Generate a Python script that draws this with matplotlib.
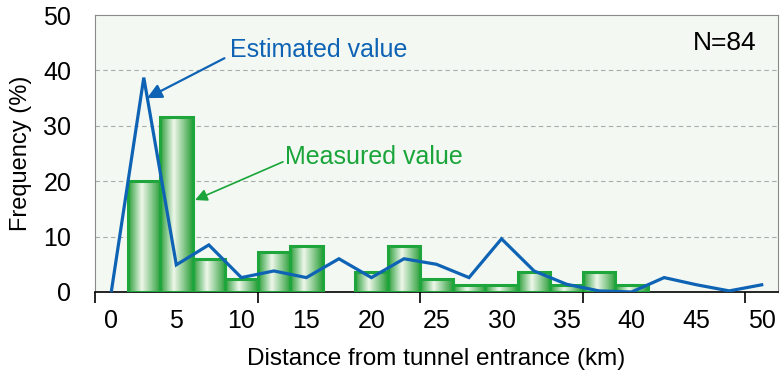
"""Frequency of distance from tunnel entrance: measured vs estimated."""

import matplotlib

matplotlib.use("Agg")
import matplotlib.pyplot as plt
import numpy as np
from matplotlib.colors import LinearSegmentedColormap
from matplotlib.patches import Rectangle

# measured histogram (bins 2.5 km wide, centred on multiples of 2.5)
bar_centers = [2.5, 5, 7.5, 10, 12.5, 15, 17.5, 20, 22.5, 25, 27.5, 30, 32.5, 35, 37.5, 40]
measured = [20.0, 31.5, 6.0, 2.4, 7.2, 8.3, 0.0, 3.6, 8.3, 2.4, 1.2, 1.2, 3.6, 1.2, 3.6, 1.2]

# estimated curve
est_x = [0, 2.5, 5, 7.5, 10, 12.5, 15, 17.5, 20, 22.5, 25, 27.5, 30, 32.5, 35, 37.5, 40,
         42.5, 45, 47.5, 50]
estimated = [0.0, 38.7, 4.9, 8.5, 2.6, 3.8, 2.6, 6.0, 2.6, 6.0, 5.0, 2.6, 9.6, 3.8, 1.4, 0.2, 0.0,
             2.6, 1.3, 0.2, 1.3]

x_ticks = [0, 5, 10, 15, 20, 25, 30, 35, 40, 45, 50]
y_ticks = [0, 10, 20, 30, 40, 50]

GREEN = "#1ea63c"
BLUE = "#0f63b5"
BAR_WIDTH = 2.5

plt.rcParams["font.family"] = ["Liberation Sans", "DejaVu Sans"]

fig = plt.figure(figsize=(7.8, 3.83), dpi=100)
ax = fig.add_axes([0.1218, 0.2376, 0.8756, 0.7232])
ax.set_facecolor("#f3f9f2")

for y in y_ticks[1:-1]:
    ax.axhline(y, color="#aaaaaa", linestyle=(0, (4, 3)), linewidth=0.8, zorder=1)

# cylinder-like gradient bars
cmap = LinearSegmentedColormap.from_list(
    "bar", [(0.0, "#2c9f3a"), (0.42, "#eef7ea"), (1.0, "#2c9f3a")])
grad = np.linspace(0, 1, 64).reshape(1, -1)
for cx, h in zip(bar_centers, measured):
    if h <= 0:
        continue
    x0 = cx - BAR_WIDTH / 2
    rect = Rectangle((x0, 0), BAR_WIDTH, h, facecolor="none", edgecolor=GREEN,
                     linewidth=2.2, zorder=3)
    ax.add_patch(rect)
    im = ax.imshow(grad, cmap=cmap, aspect="auto", extent=(x0, x0 + BAR_WIDTH, 0, h),
                   zorder=2, interpolation="bilinear")
    im.set_clip_path(rect)

ax.set_xlim(-1.25, 51.25)
ax.set_ylim(0, 50)

ax.plot(est_x, estimated, color=BLUE, linewidth=2.3, zorder=4, solid_joinstyle="miter")

# labels with arrows
ax.text(9.1, 43.7, "Estimated value", color=BLUE, fontsize=18, va="center", ha="left")
ax.annotate("", xy=(2.75, 35.0), xytext=(8.7, 42.2),
            arrowprops=dict(arrowstyle="-|>", color=BLUE, lw=1.6, mutation_scale=22,
                            shrinkA=0, shrinkB=0))
ax.text(13.35, 24.4, "Measured value", color="#1aa53a", fontsize=18, va="center", ha="left")
ax.annotate("", xy=(6.44, 16.6), xytext=(13.2, 23.5),
            arrowprops=dict(arrowstyle="-|>", color="#1aa53a", lw=1.2, mutation_scale=18,
                            shrinkA=0, shrinkB=0))
ax.text(0.969, 0.9, "N=84", transform=ax.transAxes, ha="right", va="center", fontsize=19)

ax.set_xticks(x_ticks)
ax.set_xticks(np.arange(-1.25, 51.26, 12.5), minor=True)
ax.tick_params(axis="x", which="major", length=0, labelsize=18, pad=12)
ax.tick_params(axis="x", which="minor", length=8, width=1.2, color="black")
ax.set_yticks(y_ticks)
ax.tick_params(axis="y", length=0, labelsize=18, pad=17)

for side in ["top", "right", "left"]:
    ax.spines[side].set_color("#8a8a8a")
ax.spines["bottom"].set_color("black")
ax.spines["bottom"].set_linewidth(1.2)

ax.set_xlabel("Distance from tunnel entrance (km)", fontsize=17.5, labelpad=11)
ax.set_ylabel("Frequency (%)", fontsize=17, labelpad=8)

fig.savefig("out.png", dpi=100)
